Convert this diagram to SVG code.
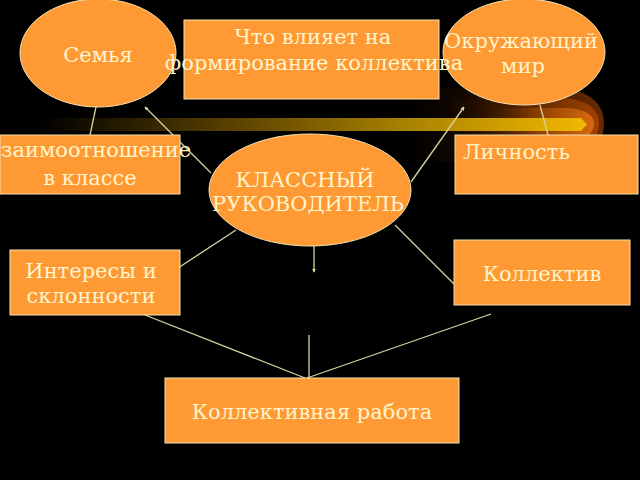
<svg xmlns="http://www.w3.org/2000/svg" width="640" height="480" viewBox="0 0 640 480">
<defs>
<style>
.shape{fill:#FF9933;stroke:#F2E2B0;stroke-width:1}
.t{font-family:"DejaVu Serif","Liberation Serif",serif;font-size:21px;fill:#FFF4CC;text-anchor:middle}
.tl{text-anchor:start}
.c{stroke:#D8D4A0;stroke-width:1.3;fill:none}
</style>
<marker id="ah" viewBox="0 0 6 6" refX="5" refY="3" markerWidth="4" markerHeight="4" orient="auto" markerUnits="userSpaceOnUse">
<path d="M0,0 L6,3 L0,6 z" fill="#D8D4A0"/>
</marker>
<linearGradient id="bar" x1="40" y1="0" x2="587" y2="0" gradientUnits="userSpaceOnUse">
<stop offset="0" stop-color="#000000"/>
<stop offset="0.35" stop-color="#5A4000"/>
<stop offset="0.7" stop-color="#B08800"/>
<stop offset="1" stop-color="#F2B800"/>
</linearGradient>
<linearGradient id="halo1" x1="380" y1="0" x2="603" y2="0" gradientUnits="userSpaceOnUse">
<stop offset="0" stop-color="#000000" stop-opacity="0"/>
<stop offset="0.6" stop-color="#301400"/>
<stop offset="1" stop-color="#6A2A00"/>
</linearGradient>
<linearGradient id="halo2" x1="420" y1="0" x2="598" y2="0" gradientUnits="userSpaceOnUse">
<stop offset="0" stop-color="#000000" stop-opacity="0"/>
<stop offset="0.6" stop-color="#5A2400"/>
<stop offset="1" stop-color="#A04200"/>
</linearGradient>
<linearGradient id="halo3" x1="460" y1="0" x2="594" y2="0" gradientUnits="userSpaceOnUse">
<stop offset="0" stop-color="#000000" stop-opacity="0"/>
<stop offset="0.6" stop-color="#904200"/>
<stop offset="1" stop-color="#D86810"/>
</linearGradient>
</defs>
<rect x="0" y="0" width="640" height="480" fill="#000000"/>
<g id="decoration">
<path d="M380,88 L560,88 Q604,92 604,124 Q604,156 560,162 L380,162 Z" fill="url(#halo1)"/>
<path d="M420,98 L565,98 Q599,102 599,124 Q599,146 565,152 L420,152 Z" fill="url(#halo2)"/>
<path d="M460,108 L570,108 Q594,111 594,124 Q594,138 570,142 L460,142 Z" fill="url(#halo3)"/>
<path d="M40,118 L581,118 L587,124.5 L581,131 L40,131 Z" fill="url(#bar)"/>
</g>
<g id="connectors">
<line class="c" x1="96" y1="107" x2="90" y2="135"/>
<line class="c" x1="540" y1="105" x2="548" y2="135"/>
<line class="c" x1="211" y1="173" x2="145" y2="107" marker-end="url(#ah)"/>
<line class="c" x1="411" y1="182" x2="464" y2="107" marker-end="url(#ah)"/>
<line class="c" x1="314" y1="240" x2="314" y2="272" marker-end="url(#ah)"/>
<line class="c" x1="236" y1="230" x2="175" y2="270"/>
<line class="c" x1="395" y1="225" x2="459" y2="289"/>
<line class="c" x1="145" y1="315" x2="305" y2="378"/>
<line class="c" x1="309" y1="335" x2="309" y2="378"/>
<line class="c" x1="491" y1="314" x2="307" y2="378"/>
</g>
<g id="node-semya">
<ellipse class="shape" cx="98" cy="53" rx="78" ry="54"/>
<text class="t" x="98" y="62">Семья</text>
</g>
<g id="node-mir">
<ellipse class="shape" cx="524" cy="52" rx="81" ry="53"/>
<text class="t" x="521" y="48">Окружающий</text>
<text class="t" x="523" y="73">мир</text>
</g>
<g id="node-question">
<rect class="shape" x="184" y="20" width="255" height="79"/>
<text class="t" x="313" y="44">Что влияет на</text>
<text class="t" x="314" y="70">формирование коллектива</text>
</g>
<g id="node-vzaimo">
<rect class="shape" x="0" y="135" width="180" height="59"/>
<text class="t tl" x="1" y="157">заимоотношение</text>
<text class="t" x="90" y="185">в классе</text>
</g>
<g id="node-lichnost">
<rect class="shape" x="455" y="135" width="183" height="59"/>
<text class="t tl" x="463" y="159">Личность</text>
</g>
<g id="node-center">
<ellipse class="shape" cx="310" cy="190" rx="101" ry="56"/>
<text class="t" x="305" y="187">КЛАССНЫЙ</text>
<text class="t" x="308" y="211">РУКОВОДИТЕЛЬ</text>
</g>
<g id="node-interesy">
<rect class="shape" x="10" y="250" width="170" height="65"/>
<text class="t" x="91" y="278">Интересы и</text>
<text class="t" x="91" y="303">склонности</text>
</g>
<g id="node-kollektiv">
<rect class="shape" x="454" y="240" width="176" height="65"/>
<text class="t" x="542" y="281">Коллектив</text>
</g>
<g id="node-rabota">
<rect class="shape" x="165" y="378" width="294" height="65"/>
<text class="t" x="312" y="419">Коллективная работа</text>
</g>
</svg>
